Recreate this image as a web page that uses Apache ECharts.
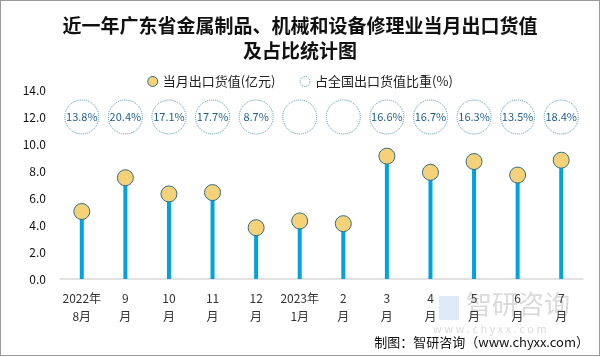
<!DOCTYPE html>
<html><head><meta charset="utf-8">
<script src="https://cdn.jsdelivr.net/npm/echarts@6/dist/echarts.min.js"></script>
<style>html,body{margin:0;padding:0;background:#fff}#c{width:600px;height:356px;box-sizing:border-box;border:1px solid #9a9a9a}</style>
</head><body><div id="c"></div>
<script>
const categories = ['2022年\n8月','9\n月','10\n月','11\n月','12\n月','2023年\n1月','2\n月','3\n月','4\n月','5\n月','6\n月','7\n月'];
const exportValue = [5.0, 7.5, 6.3, 6.4, 3.8, 4.3, 4.1, 9.1, 7.9, 8.7, 7.7, 8.8];
const sharePct = [13.8, 20.4, 17.1, 17.7, 8.7, null, null, 16.6, 16.7, 16.3, 13.5, 18.4];
const yTicks = [0, 2, 4, 6, 8, 10, 12, 14];
const shareRow = 12;

const chart = echarts.init(document.getElementById('c'));
const font = '"Noto Sans CJK SC", "Noto Sans", sans-serif';
chart.setOption({
  animation: false,
  title: {
    text: '近一年广东省金属制品、机械和设备修理业当月出口货值\n及占比统计图',
    left: 'center', top: 7,
    textStyle: {fontFamily: font, fontSize: 19, fontWeight: 'bold', color: '#111', lineHeight: 25}
  },
  legend: {
    top: 69, left: 'center', itemGap: 24, itemWidth: 10, itemHeight: 10,
    textStyle: {fontFamily: font, fontSize: 13, color: '#222'},
    data: [
      {name: '当月出口货值(亿元)', icon: 'circle', itemStyle: {color: '#F5D27A', borderColor: '#2E6E80', borderWidth: 1}},
      {name: '占全国出口货值比重(%)', icon: 'circle', itemStyle: {color: '#fff', borderColor: '#4A8FA8', borderWidth: 1, borderType: 'dotted'}}
    ]
  },
  grid: {left: 59, right: 16, top: 89, bottom: 76},
  xAxis: {
    type: 'category', data: categories,
    axisLine: {lineStyle: {color: '#D9D9D9', width: 1.5}},
    axisTick: {show: false},
    axisLabel: {fontFamily: font, fontSize: 12, color: '#333', lineHeight: 18, margin: 10, interval: 0}
  },
  yAxis: {
    type: 'value', min: yTicks[0], max: yTicks[yTicks.length - 1], interval: 2,
    axisLine: {show: false}, axisTick: {show: false}, splitLine: {show: false},
    axisLabel: {fontFamily: font, fontSize: 12, color: '#111', margin: 14, formatter: v => v.toFixed(1)}
  },
  series: [
    {
      type: 'bar', data: exportValue, barWidth: 4, silent: true,
      itemStyle: {color: '#00A3DE'}, legendHoverLink: false, name: 'stem', z: 2
    },
    {
      name: '当月出口货值(亿元)', type: 'scatter', data: exportValue, symbolSize: 16, z: 3,
      itemStyle: {color: '#F5D27A', borderColor: '#2E6E80', borderWidth: 1, opacity: 1}
    },
    {
      name: '占全国出口货值比重(%)', type: 'scatter', symbolSize: 34, z: 3,
      data: sharePct.map((p, i) => ({value: [i, shareRow], pct: p})),
      itemStyle: {color: '#fff', borderColor: '#4A8FA8', borderWidth: 1, borderType: 'dotted', opacity: 1},
      label: {show: true, position: 'inside', fontFamily: font, fontSize: 11, color: '#1F5F8F',
        formatter: p => p.data.pct == null ? '' : p.data.pct.toFixed(1) + '%'}
    }
  ],
  graphic: [
    {type: 'text', right: 10, bottom: 6, style: {text: '制图：智研咨询（www.chyxx.com）', fontFamily: font, fontSize: 13, fill: '#111'}},
    {type: 'text', left: 465, top: 290, z: -1, style: {text: '智研咨询', fontFamily: font, fontSize: 26, fill: 'rgba(150,150,150,0.35)'}},
    {type: 'text', left: 432, top: 322, z: -1, style: {text: 'w w w . c h y x x . c o m', fontFamily: font, fontSize: 11, fill: 'rgba(150,150,150,0.35)'}},
    {type: 'rect', left: 438, top: 295, z: -1, shape: {width: 20, height: 24}, style: {fill: 'rgba(120,170,220,0.25)'}}
  ]
});
</script></body></html>
